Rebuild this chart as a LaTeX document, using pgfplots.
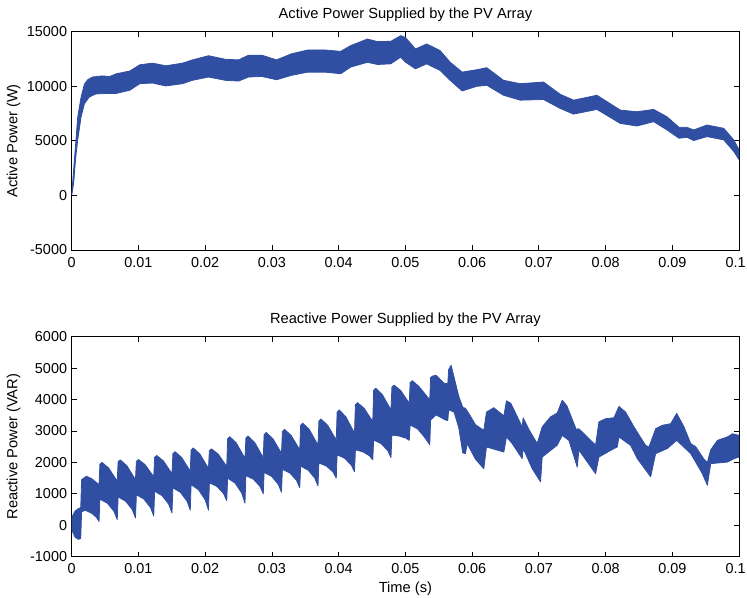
\documentclass[border=0pt]{standalone}
\usepackage{fontspec}
\setmainfont{Liberation Sans}
\usepackage{pgfplots}
\pgfplotsset{compat=1.18}
\definecolor{bandblue}{RGB}{49,79,162}
\pgfplotsset{mstyle/.style={
  scale only axis, width=500.5pt,
  xmin=0, xmax=0.1,
  scaled x ticks=false, scaled y ticks=false,
  axis line style={black, line width=0.6pt},
  tick align=inside, major tick length=3.75pt,
  tick style={black, line width=0.6pt},
  xtick={0,0.01,0.02,0.03,0.04,0.05,0.06,0.07,0.08,0.09,0.1},
  xticklabels={0,0.01,0.02,0.03,0.04,0.05,0.06,0.07,0.08,0.09,{0.1\kern5pt\null}},
  ticklabel style={font=\fontsize{10.8}{13}\selectfont},
  xticklabel style={anchor=base, yshift=-12.8pt},
  title style={font=\fontsize{11}{13}\selectfont, at={(axis description cs:0.5,1)}, anchor=base, yshift=4pt},
  ylabel style={font=\fontsize{11}{13}\selectfont, at={(axis description cs:-0.087,0.5)}, anchor=center},
  xlabel style={font=\fontsize{11}{13}\selectfont, at={(axis description cs:0.5,0)}, anchor=base, yshift=-27pt},
}}
\begin{document}
\begin{tikzpicture}
\path[use as bounding box] (0,0) rectangle (560.25pt,447.75pt);
\begin{axis}[mstyle, at={(53.8pt,260.25pt)}, anchor=south west, height=163.7pt,
  ymin=-5000, ymax=15000, ytick={-5000,0,5000,10000,15000},
  yticklabels={-5000,0,5000,10000,15000},
  title={Active Power Supplied by the PV Array}, ylabel={Active Power (W)}]
% band: upper envelope left to right, then lower envelope right to left
\addplot[fill=bandblue, draw=bandblue, line width=0.6pt, line join=round] coordinates {
(0,0) (0.0003,2500) (0.0006,4800) (0.0009,7200) (0.0014,9000) (0.0019,10200)
(0.0024,10600) (0.0031,10850) (0.0045,10950) (0.0057,10900) (0.0067,11150)
(0.0087,11400) (0.0102,11970) (0.0121,12120) (0.0141,11880) (0.0166,12120)
(0.0181,12420) (0.0205,12800) (0.0230,12480) (0.0250,12420) (0.0265,12850)
(0.0285,12850) (0.0307,12420) (0.0329,12970) (0.0354,13330) (0.0379,13330)
(0.0403,13200) (0.0418,13730) (0.0443,14330) (0.0458,14100) (0.0478,14120)
(0.0493,14640) (0.0500,14480) (0.0515,13420) (0.0532,13880) (0.0552,13270)
(0.0567,12210) (0.0585,11300) (0.0607,11520) (0.0622,11700) (0.0647,10550)
(0.0672,10240) (0.0707,10390) (0.0732,9270) (0.0752,8730) (0.0787,9180)
(0.0822,7820) (0.0847,7670) (0.0872,7880) (0.0892,7210) (0.0910,6240)
(0.0922,6240) (0.0932,6000) (0.0952,6450) (0.0977,6150) (0.0992,5090)
(0.1000,4180)
(0.1000,3270) (0.0992,4030) (0.0977,5090) (0.0952,5390) (0.0932,5030)
(0.0922,5330) (0.0910,5240) (0.0892,6000) (0.0872,6760) (0.0847,6360)
(0.0822,6600) (0.0787,7880) (0.0752,7450) (0.0732,7970) (0.0707,8790)
(0.0672,8730) (0.0647,9180) (0.0622,10090) (0.0607,10000) (0.0585,9570)
(0.0567,10550) (0.0552,11450) (0.0532,12060) (0.0515,11600) (0.0500,12210)
(0.0493,12670) (0.0478,12060) (0.0458,12000) (0.0443,12200) (0.0418,11760)
(0.0403,11150) (0.0379,11300) (0.0354,11300) (0.0329,11000) (0.0307,10600)
(0.0285,10900) (0.0265,10850) (0.0250,10480) (0.0230,10550) (0.0205,10850)
(0.0181,10550) (0.0166,10240) (0.0141,10030) (0.0121,10300) (0.0102,10240)
(0.0087,9640) (0.0067,9350) (0.0056,9350) (0.0036,9300) (0.0026,9000)
(0.0019,8400) (0.0014,7200) (0.0009,5100) (0.0006,3500) (0.0003,1200) (0,0)};
\end{axis}
\begin{axis}[mstyle, at={(53.8pt,30.25pt)}, anchor=south west, height=165pt,
  ymin=-1000, ymax=6000, ytick={-1000,0,1000,2000,3000,4000,5000,6000},
  yticklabels={-1000,0,1000,2000,3000,4000,5000,6000},
  title={Reactive Power Supplied by the PV Array}, ylabel={Reactive Power (VAR)},
  xlabel={Time (s)}]
\addplot[fill=bandblue, draw=bandblue, line width=0.6pt, line join=round] coordinates {
(0,250) (0.0005,450) (0.0010,530) (0.00135,560)
(0.00148,1450) (0.0022,1560) (0.0030,1480) (0.00409,1290)
(0.00422,1940) (0.00454,2000) (0.00554,1820) (0.00682,1400)
(0.00695,2017) (0.00727,2080) (0.00827,1891) (0.00955,1450)
(0.00969,2035) (0.01001,2090) (0.01101,1925) (0.01229,1540)
(0.01242,2162) (0.01274,2220) (0.01374,2046) (0.01502,1640)
(0.01516,2278) (0.01548,2340) (0.01648,2154) (0.01776,1720)
(0.01789,2395) (0.01821,2460) (0.01921,2265) (0.02049,1810)
(0.02063,2374) (0.02095,2430) (0.02195,2262) (0.02323,1870)
(0.02336,2751) (0.02368,2820) (0.02468,2613) (0.02596,2130)
(0.02610,2771) (0.02642,2840) (0.02742,2633) (0.02870,2150)
(0.02883,2884) (0.02915,2950) (0.03015,2752) (0.03143,2290)
(0.03157,2985) (0.03189,3050) (0.03289,2855) (0.03417,2400)
(0.03430,3180) (0.03462,3250) (0.03562,3040) (0.03690,2550)
(0.03704,3313) (0.03736,3380) (0.03836,3179) (0.03964,2710)
(0.03977,3596) (0.04009,3670) (0.04109,3448) (0.04237,2930)
(0.04251,3840) (0.04283,3900) (0.04383,3720) (0.04511,3300)
(0.04524,4291) (0.04556,4360) (0.04656,4153) (0.04784,3670)
(0.04798,4402) (0.04830,4460) (0.04930,4286) (0.05058,3880)
(0.05071,4539) (0.05103,4600) (0.05203,4417) (0.05365,3990)
(0.05378,4700) (0.05410,4750) (0.05460,4770) (0.05580,4520) (0.05635,4500)
(0.05648,4950) (0.05685,5090) (0.05730,4700) (0.05800,4100) (0.05860,3750)
(0.05900,3720) (0.05950,3560) (0.06050,3200) (0.06175,3020) (0.06215,3600)
(0.06325,3740) (0.06475,3480) (0.06515,3960) (0.06580,3880) (0.06750,3130)
(0.06765,3420) (0.06850,3050) (0.06975,2600) (0.07050,3130) (0.07175,3450)
(0.07275,3570) (0.07350,3980) (0.07420,3800) (0.07560,3050) (0.07600,3070)
(0.07850,2550) (0.07900,3290) (0.08000,3390) (0.08125,3420) (0.08200,3780)
(0.08300,3600) (0.08425,3130) (0.08600,2540) (0.08650,2490) (0.08750,3070)
(0.08850,3180) (0.08975,3230) (0.09065,3560) (0.09175,3130) (0.09275,2600)
(0.09350,2500) (0.09475,2100) (0.09525,2000) (0.09575,2400) (0.09675,2700)
(0.09825,2810) (0.09900,2910) (0.10000,2860)
(0.10000,2170) (0.09925,2120) (0.09825,2010) (0.09575,1960) (0.09525,1270)
(0.09450,1640) (0.09275,2280) (0.09065,2700) (0.08925,2440) (0.08750,2280)
(0.08675,1540) (0.08475,2120) (0.08375,2540) (0.08200,2810) (0.08175,2490)
(0.08125,2440) (0.07900,2170) (0.07850,1640) (0.07600,2390) (0.07575,1850)
(0.07450,2700) (0.07350,2860) (0.07275,2545) (0.07050,2170) (0.07025,1380)
(0.06900,1800) (0.06765,2440) (0.06750,2120) (0.06600,2600) (0.06515,2810)
(0.06475,2330) (0.06215,2490) (0.06175,1800) (0.06050,2100) (0.05925,2600)
(0.05900,2280) (0.05860,2300) (0.05800,3100) (0.05730,3600) (0.05648,3670)
(0.05635,3330) (0.05600,3350) (0.05460,3510) (0.05378,3350)
(0.05365,2560) (0.05283,2812) (0.05183,3064) (0.05071,3190)
(0.05058,2700) (0.05010,2768) (0.04910,2836) (0.04798,2870)
(0.04784,2150) (0.04736,2374) (0.04636,2598) (0.04524,2710)
(0.04511,2080) (0.04463,2208) (0.04363,2336) (0.04251,2400)
(0.04237,1700) (0.04189,1916) (0.04089,2132) (0.03977,2240)
(0.03964,1500) (0.03916,1692) (0.03816,1884) (0.03704,1980)
(0.03690,1250) (0.03642,1502) (0.03542,1754) (0.03430,1880)
(0.03417,1190) (0.03369,1426) (0.03269,1662) (0.03157,1780)
(0.03143,1050) (0.03095,1302) (0.02995,1554) (0.02883,1680)
(0.02870,1000) (0.02822,1232) (0.02722,1464) (0.02610,1580)
(0.02596,700) (0.02548,1020) (0.02448,1340) (0.02336,1500)
(0.02323,780) (0.02275,1008) (0.02175,1236) (0.02063,1350)
(0.02049,480) (0.02001,804) (0.01901,1128) (0.01789,1290)
(0.01776,480) (0.01728,764) (0.01628,1048) (0.01516,1190)
(0.01502,390) (0.01454,666) (0.01354,942) (0.01242,1080)
(0.01229,290) (0.01181,562) (0.01081,834) (0.00969,970)
(0.00955,230) (0.00907,498) (0.00807,766) (0.00695,900)
(0.00682,180) (0.00634,440) (0.00534,700) (0.00422,830)
(0.00409,120) (0.0037,250) (0.0030,380) (0.0020,480) (0.00148,420)
(0.00135,-420) (0.0010,-450) (0.0005,-380) (0,-150)};
\end{axis}
\end{tikzpicture}
\end{document}
